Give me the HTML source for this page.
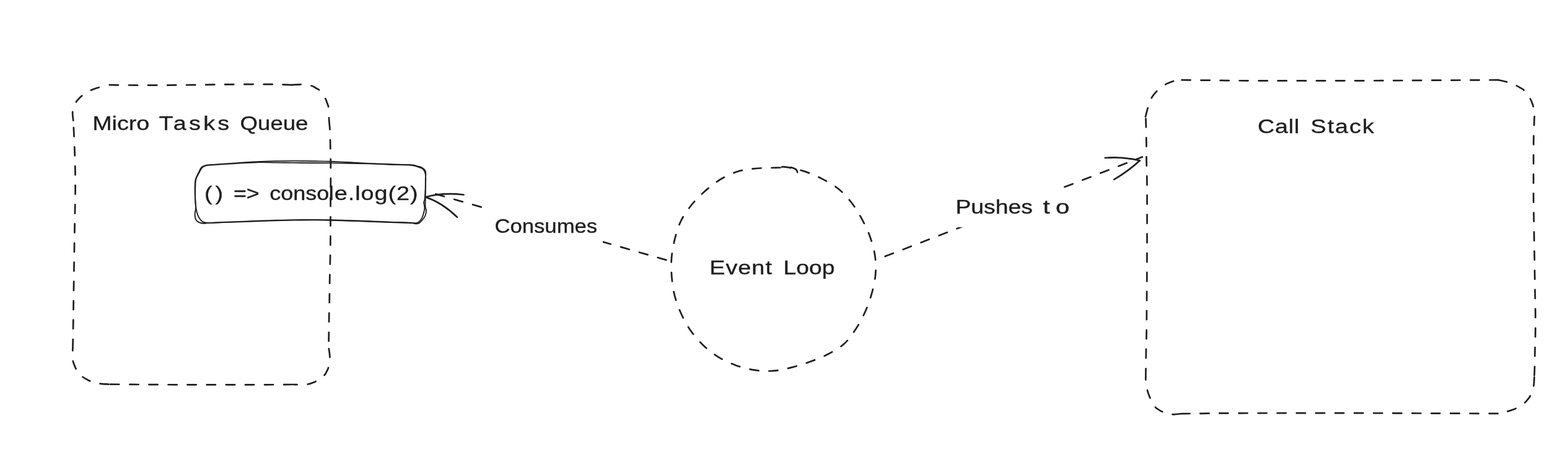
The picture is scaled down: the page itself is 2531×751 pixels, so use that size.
<!DOCTYPE html>
<html lang="en">
<head>
<meta charset="utf-8">
<title>Event Loop diagram</title>
<style>
html,body{margin:0;padding:0;background:#fff;}
body{width:2531px;height:751px;overflow:hidden;}
svg{display:block;will-change:transform;}
.shapes path{fill:none;stroke:#1e1e1e;stroke-linecap:round;stroke-linejoin:round;}
text{font-family:"Liberation Sans",sans-serif;font-size:31px;fill:#1e1e1e;stroke:#1e1e1e;stroke-width:0.35px;stroke-linejoin:round;}
</style>
</head>
<body>
<svg width="2531" height="751" viewBox="0 0 2531 751">
<rect width="2531" height="751" fill="#fff"/>
<g class="shapes">
<!-- Micro Tasks Queue container -->
<path d="M176.8,137.2C188.3,137.3 224.1,137.7 246,137.7C267.9,137.7 287.3,137.4 308,137.2C328.7,137 349.2,136.6 370,136.4C390.8,136.2 416.2,136 433,136.1C449.8,136.2 464.7,136.9 471,137.1" stroke-dasharray="14.2 16.87" stroke-width="2.7"/>
<path d="M471,137.2C473.8,137.1 482.3,136.2 487.5,136.4C492.7,136.6 498.7,137.6 502.4,138.5C506.1,139.4 507.2,140.7 509.5,142C511.8,143.3 513.8,143.6 516.4,146.4C519,149.2 523,155.4 524.9,158.6C526.8,161.8 526.9,163.4 527.8,165.8C528.7,168.2 529.7,169.5 530.2,173.2C530.7,176.9 530.9,184.4 531,188C531.1,191.6 531.1,193.4 531.1,194.5" stroke-dasharray="14.2 16.87" stroke-width="2.7" pathLength="97.86"/>
<path d="M531.2,195C531.4,197.5 532.2,203.5 532.5,210C532.8,216.5 533,224.8 533.2,234C533.4,243.2 533.7,249.7 533.8,265C533.9,280.3 533.7,305.5 533.6,326C533.5,346.5 533.5,372.3 533.4,388C533.3,403.7 533.1,409.3 532.9,420C532.7,430.7 532.4,441.7 532.2,452C532,462.3 532,471.8 531.8,482C531.6,492.2 531.3,502.7 531.1,513C530.9,523.3 530.8,537.2 530.7,544C530.6,550.8 530.7,552.3 530.7,554" stroke-dasharray="14.2 16.87" stroke-width="2.7"/>
<path d="M530.8,563C531.1,565.4 532.5,572.5 532.4,577.5C532.3,582.5 531.1,589.2 530.2,593C529.3,596.8 528.4,597.9 527.2,600.2C526,602.5 525.8,604 523,606.6C520.2,609.2 513.8,613.7 510.5,615.7C507.2,617.7 505.8,617.8 503.3,618.6C500.9,619.4 499.6,620.2 495.8,620.6C492,621 484,621.1 480.4,621.2C476.8,621.3 475.1,621 474,621" stroke-dasharray="14.2 16.87" stroke-width="2.7" pathLength="98.90"/>
<path d="M472.2,621C461.8,621.1 441,621.3 410,621.3C379,621.3 317,621.3 286,621.3C255,621.2 242.3,621.1 224,621C205.7,620.9 184,620.7 176,620.6" stroke-dasharray="14.2 16.87" stroke-width="2.7"/>
<path d="M175.5,620.6C173.1,620.4 165.8,620.4 161,619.6C156.2,618.8 150.4,617.2 146.8,616C143.2,614.8 141.9,613.8 139.5,612.4C137.1,611 135.2,610.5 132.5,607.9C129.8,605.3 125.5,599.9 123.4,596.8C121.3,593.7 121,592 120,589.5C119,587 118,585.5 117.6,581.6C117.1,577.7 117.3,569.4 117.3,566.3C117.3,563.2 117.4,563.5 117.4,563" stroke-dasharray="14.2 16.87" stroke-width="2.7" pathLength="96.57"/>
<path d="M117.5,562.1C117.6,555.6 118,534.7 118.2,523C118.4,511.3 118.4,507.3 118.6,492C118.8,476.7 119.3,446.3 119.5,431C119.7,415.7 119.8,410.5 120,400C120.2,389.5 120.3,378.5 120.5,368C120.7,357.5 120.9,347.3 121.1,337C121.3,326.7 121.5,316.3 121.6,306C121.6,295.7 121.6,285.3 121.4,275C121.2,264.7 120.9,254.3 120.5,244C120.1,233.7 119.6,220.8 119.2,213C118.8,205.2 118.5,199.7 118.3,197" stroke-dasharray="14.2 16.87" stroke-width="2.7"/>
<path d="M118.3,194.6C118.1,192.2 116.6,184.8 117.3,180C118,175.2 120.8,168.9 122.5,165.5C124.2,162.1 125.5,161.4 127.2,159.6C128.9,157.8 129.6,156.6 132.7,154.4C135.8,152.2 142.4,148.2 145.8,146.3C149.2,144.4 150.7,144.1 153.2,143.2C155.7,142.3 157.3,141.9 161,140.9C164.7,139.9 173.1,137.9 175.5,137.3" stroke-dasharray="14.2 16.87" stroke-width="2.7" pathLength="92.47"/>
<!-- Call Stack container -->
<path d="M1907.5,129.2C1917.9,129.3 1949.4,129.7 1970,129.9C1990.6,130.1 1993.7,130.3 2031,130.4C2068.3,130.5 2150.8,130.4 2194,130.3C2237.2,130.2 2258.8,130 2290,129.8C2321.2,129.7 2359.7,129.5 2381,129.4C2402.3,129.3 2411.8,129.2 2418,129.1" stroke-dasharray="14.2 16.87" stroke-width="2.7"/>
<path d="M2418.3,129.1C2420.8,129.7 2428.3,131.1 2433,132.6C2437.7,134.1 2443.2,136.3 2446.7,137.8C2450.2,139.3 2451.6,140.3 2453.9,141.7C2456.2,143.1 2458,143.6 2460.6,146.4C2463.2,149.2 2467.3,155.1 2469.3,158.3C2471.3,161.5 2471.8,163.1 2472.8,165.6C2473.8,168.1 2474.6,169.7 2475.2,173.3C2475.8,176.9 2476.4,184.7 2476.6,187" stroke-dasharray="14.2 16.87" stroke-width="2.7" pathLength="91.15"/>
<path d="M2476.8,188.2C2476.6,194.3 2475.7,213.5 2475.5,225C2475.3,236.5 2475.3,241.3 2475.3,257C2475.3,272.7 2475.2,303.5 2475.3,319C2475.4,334.5 2475.6,339.7 2475.8,350C2476,360.3 2476.1,370.7 2476.3,381C2476.5,391.3 2476.6,401.5 2476.8,412C2477,422.5 2477.1,433.5 2477.3,444C2477.5,454.5 2477.6,464.8 2477.8,475C2478,485.2 2478.3,494.8 2478.4,505C2478.5,515.2 2478.5,525.5 2478.4,536C2478.3,546.5 2477.8,558.2 2477.6,568C2477.4,577.8 2477.3,588.3 2477.1,595C2476.9,601.7 2476.7,605.8 2476.6,608" stroke-dasharray="14.2 16.87" stroke-width="2.7"/>
<path d="M2476.6,609C2476.4,611.6 2476.4,619.6 2475.3,624.7C2474.2,629.8 2471.6,635.9 2470,639.4C2468.4,642.9 2467.2,643.7 2465.5,645.7C2463.8,647.7 2463.1,649 2460.1,651.3C2457.1,653.6 2450.8,657.5 2447.5,659.3C2444.2,661.1 2442.7,661.4 2440.2,662.3C2437.7,663.2 2436.2,663.7 2432.7,664.6C2429.1,665.5 2421.2,667.1 2418.9,667.6" stroke-dasharray="14.2 16.87" stroke-width="2.7" pathLength="91.02"/>
<path d="M2417.7,667.9C2400.9,667.8 2355,667.7 2317,667.6C2279,667.5 2242.8,667.2 2190,667.2C2137.2,667.2 2041.7,667.2 2000,667.3C1958.3,667.4 1955.3,667.6 1940,667.8C1924.7,667.9 1913.3,668.1 1908,668.2" stroke-dasharray="14.2 16.87" stroke-width="2.7"/>
<path d="M1906.5,668.2C1904.1,668.4 1897.1,669.7 1892.3,669.2C1887.5,668.8 1881,666.7 1877.4,665.5C1873.8,664.3 1872.8,663.2 1870.6,661.8C1868.4,660.4 1866.8,660.1 1864.5,657.1C1862.2,654.1 1858.8,647.4 1857.1,644C1855.3,640.6 1854.9,639.1 1854,636.6C1853.1,634.1 1852.5,632.8 1851.8,628.9C1851,625 1849.9,616.6 1849.5,613.5C1849.1,610.4 1849.4,611 1849.4,610.5" stroke-dasharray="14.2 16.87" stroke-width="2.7" pathLength="96.22"/>
<path d="M1849.4,609.4C1849.5,603 1849.7,582.6 1849.9,571C1850.1,559.4 1850.4,550.3 1850.6,540C1850.8,529.7 1850.8,519.3 1850.9,509C1851,498.7 1851,491.2 1851.1,478C1851.2,464.8 1851.3,453 1851.4,430C1851.5,407 1851.6,363 1851.6,340C1851.6,317 1851.6,305.3 1851.4,292C1851.2,278.7 1850.8,270.5 1850.6,260C1850.4,249.5 1850.6,239.3 1850.4,229C1850.2,218.7 1849.9,204.2 1849.7,198C1849.5,191.8 1849.5,192.6 1849.4,191.5" stroke-dasharray="14.2 16.87" stroke-width="2.7"/>
<path d="M1849,188.5C1849.7,185.9 1851.6,177.9 1853.2,172.9C1854.8,167.9 1857,162.2 1858.6,158.7C1860.2,155.2 1861.4,154.2 1863,152.1C1864.6,150 1865.5,148.8 1868.4,146.3C1871.3,143.8 1877.1,139.1 1880.3,137C1883.5,134.9 1885.1,134.5 1887.6,133.5C1890.1,132.5 1891.9,131.5 1895.2,130.8C1898.5,130.1 1905.5,129.5 1907.5,129.2" stroke-dasharray="14.2 16.87" stroke-width="2.7" pathLength="89.37"/>
<!-- queued task box -->
<path d="M337,266.4C344.2,265.9 367,264.3 380,263.4C393,262.5 404.2,261.7 415,261.2C425.8,260.7 435,260.5 445,260.3C455,260.1 465,259.9 475,259.9C485,259.9 495.2,260 505,260.2C514.8,260.4 524,260.4 534,260.8C544,261.2 554.8,261.8 565,262.3C575.2,262.8 584.2,263.4 595,263.9C605.8,264.4 618.6,264.8 630,265.2C641.4,265.6 656,265.7 663.2,266.2C670.4,266.7 670.2,267.5 673.2,268.3C676.2,269.1 679.1,269.7 681.2,270.8C683.3,271.9 684.9,273.3 685.9,274.8C686.9,276.3 687.1,277.5 687.2,280C687.4,282.5 686.9,285 686.8,290C686.7,295 686.8,302.8 686.8,310C686.8,317.2 686.3,328 686.5,333C686.7,338 688,337.5 688,340C688,342.5 687.6,345.3 686.5,348C685.4,350.7 683,353.9 681.2,356C679.4,358.1 677.8,359.7 675.9,360.6C674,361.5 672,361.5 669.9,361.3C667.8,361.1 669.6,360.1 663,359.7C656.4,359.2 641.3,359 630,358.6C618.7,358.2 605.8,357.6 595,357.2C584.2,356.8 575.2,356.5 565,356.2C554.8,355.9 544,355.5 534,355.3C524,355.1 514.8,354.9 505,354.9C495.2,354.9 485,355 475,355.1C465,355.2 455,355.5 445,355.8C435,356.1 425.8,356.4 415,356.8C404.2,357.2 389.5,357.7 380,358.1C370.5,358.5 365.5,358.7 358,359C350.5,359.3 340.2,360.2 335,360C329.8,359.8 329.1,359.1 327,358C324.9,356.9 323.6,355.2 322.3,353.3C321,351.4 319.9,349.2 319,346.6C318.1,344.1 317.4,342.4 316.7,338C316,333.6 315.3,326.3 315,320C314.7,313.7 314.6,305 314.7,300C314.8,295 314.7,293.3 315.6,290C316.5,286.7 318.4,283.2 320,280C321.6,276.8 323.1,272.8 325,270.7C326.9,268.6 329.7,267.9 331.7,267.2C333.7,266.5 336.1,266.5 337,266.4" stroke-width="1.9"/>
<path d="M336.5,266.8C343.8,266.3 366.9,264.8 380,264C393.1,263.2 404.2,262.4 415,262.2C425.8,262 435,262.5 445,262.6C455,262.7 465,262.8 475,262.9C485,263 495.2,263.1 505,263.2C514.8,263.3 524,263.3 534,263.4C544,263.5 554.8,263.6 565,263.8C575.2,264 584.2,264.1 595,264.4C605.8,264.7 618.7,265.3 630,265.7C641.3,266.1 655.5,266 663,266.7C670.5,267.4 671.7,268.6 675,269.7C678.3,270.8 681.1,271.8 683,273.4C684.9,274.9 685.5,276.2 686.2,279C686.9,281.8 687.3,283.2 687.2,290C687.1,296.8 686.3,313.9 685.8,320C685.3,326.1 684.3,323.9 684.2,326.7C684.1,329.5 685.6,333.1 685.4,336.6C685.1,340.2 683.7,344.9 682.7,348C681.7,351.1 680.6,353.4 679.2,355.3C677.8,357.2 676.6,358.5 674.5,359.3C672.4,360.1 674,360.4 666.6,360.3C659.2,360.2 641.9,359.4 630,359C618.1,358.6 605.8,358.1 595,357.7C584.2,357.3 575.2,357 565,356.7C554.8,356.4 544,356 534,355.8C524,355.6 514.8,355.4 505,355.4C495.2,355.4 485,355.5 475,355.6C465,355.8 455,356 445,356.3C435,356.6 425.8,356.9 415,357.3C404.2,357.7 392.8,358.2 380,358.6C367.2,359.1 346.4,359.6 338.3,360C330.2,360.4 334.1,360.8 331.7,360.8C329.3,360.8 325.9,360.6 323.7,360C321.5,359.4 319.6,358.4 318.3,357.3C317,356.2 316.3,354.9 315.7,353.3C315.1,351.8 314.8,349.9 314.7,348C314.6,346.1 314.8,344 315,342C315.2,340 316,339.7 316,336C316,332.3 315.3,326 315.2,320C315.1,314 315.1,305.2 315.3,300C315.5,294.8 315.4,292.4 316.4,289C317.3,285.6 319.4,282.6 321,279.6C322.6,276.6 324.2,273 326,271C327.8,269 330.2,268.3 332,267.6C333.8,266.9 335.8,266.9 336.5,266.8" stroke-width="1.9"/>
<!-- Event Loop circle -->
<path d="M1262.1,269.6C1263.3,269.7 1263.3,268.7 1269.5,269.9C1275.7,271.1 1289.3,273.7 1299,276.9C1308.7,280.1 1318.3,284.3 1327.5,289.1C1336.7,293.9 1346.2,299.2 1354.2,305.7C1362.2,312.2 1368.9,320.1 1375.2,328.3C1381.5,336.5 1386.9,345.7 1391.8,354.8C1396.7,363.9 1401.1,373.2 1404.5,382.8C1407.9,392.4 1410.8,402.4 1412.3,412.5C1413.8,422.6 1414.1,432.9 1413.2,443.2C1412.3,453.5 1409.9,464.1 1407.1,474.2C1404.3,484.2 1400.7,494.1 1396.5,503.5C1392.3,512.9 1387.4,522.2 1381.8,530.8C1376.2,539.4 1370.4,548.2 1362.9,555C1355.4,561.8 1346,567 1337,571.8C1328,576.6 1318.3,580.2 1308.6,583.8C1298.9,587.3 1289,590.6 1279,593.1C1269,595.6 1258.7,598.1 1248.5,598.9C1238.3,599.7 1228.2,599.2 1218,597.7C1207.8,596.2 1197.2,593.4 1187.5,589.9C1177.8,586.4 1168.2,582 1159.5,576.6C1150.8,571.2 1142.6,564.8 1135.2,557.7C1127.8,550.6 1121,542.7 1115,534.2C1109,525.7 1103.8,516 1099.5,506.5C1095.2,497 1091.5,487.3 1089,477.4C1086.5,467.5 1085.1,457 1084.3,446.9C1083.5,436.8 1083.2,426.9 1084,416.7C1084.8,406.5 1086.8,395.9 1089.3,385.9C1091.8,375.9 1094.8,365.6 1099.3,356.5C1103.8,347.4 1109.8,339 1116.2,331C1122.6,323 1130.2,315.5 1137.9,308.7C1145.6,301.9 1153.7,295.3 1162.5,290C1171.3,284.7 1180.9,280 1190.8,277C1200.6,274 1211.1,273 1221.4,272C1231.7,271 1246,271.1 1252.6,270.9C1259.2,270.6 1257.1,270.8 1260.9,270.7C1264.7,270.6 1271.6,269.9 1275.3,270.2C1279,270.5 1281.2,271.7 1283,272.5C1284.8,273.3 1285.5,274.1 1286.2,275.2C1286.9,276.3 1287,278.4 1287.2,279" pathLength="1071.48" stroke-dasharray="14.2 16.87" stroke-width="2.7"/>
<!-- arrow: Event Loop -> task (Consumes) -->
<path d="M1075.4,419.9 L695,311" stroke-dasharray="14.2 16.87" stroke-width="2.7"/>
<rect x="790.5" y="332" width="182.5" height="64" fill="#fff" stroke="none"/>
<path d="M687,318.3 Q715,310.5 748.5,314.5" stroke-width="2.7"/>
<path d="M687,318.3 Q714,327.5 738,350.8" stroke-width="2.7"/>
<!-- arrow: Event Loop -> Call Stack (Pushes to) -->
<path d="M1428.6,414.1 L1843.8,253.5" stroke-dasharray="14.2 16.87" stroke-width="2.7"/>
<rect x="1535" y="303" width="201" height="64" fill="#fff" stroke="none"/>
<path d="M1839.8,259.3 Q1810,252.5 1783.9,255" stroke-width="2.7"/>
<path d="M1839.8,259.3 Q1822,276 1798.3,289.9" stroke-width="2.7"/>
</g>
<g class="labels">
<text y="210"><tspan x="149.2" textLength="92.1" lengthAdjust="spacingAndGlyphs" style="letter-spacing:0.00px">Micro</tspan> <tspan x="256.5" textLength="118.0" lengthAdjust="spacingAndGlyphs" style="letter-spacing:3.49px">Tasks</tspan> <tspan x="387.6" textLength="109.8" lengthAdjust="spacingAndGlyphs" style="letter-spacing:0.00px">Queue</tspan></text>
<text y="323"><tspan x="329.9" textLength="35.3" lengthAdjust="spacingAndGlyphs" style="letter-spacing:4.16px">()</tspan> <tspan x="376.9" textLength="41.8" lengthAdjust="spacingAndGlyphs" style="letter-spacing:0.00px">=&gt;</tspan> <tspan x="435.2" textLength="96.2" lengthAdjust="spacingAndGlyphs" style="letter-spacing:0.00px">conso</tspan><tspan x="530.4" textLength="145.1" lengthAdjust="spacingAndGlyphs" style="letter-spacing:0.77px">le.log(2)</tspan></text>
<text y="375.5"><tspan x="798.5" textLength="165.6" lengthAdjust="spacingAndGlyphs" style="letter-spacing:0.00px">Consumes</tspan></text>
<text y="443"><tspan x="1145.2" textLength="101.7" lengthAdjust="spacingAndGlyphs" style="letter-spacing:0.81px">Event</tspan> <tspan x="1264.6" textLength="82.8" lengthAdjust="spacingAndGlyphs" style="letter-spacing:0.00px">Loop</tspan></text>
<text y="345"><tspan x="1542.5" textLength="124.4" lengthAdjust="spacingAndGlyphs" style="letter-spacing:0.00px">Pushes</tspan> <tspan x="1683.4" textLength="52.2" lengthAdjust="spacingAndGlyphs" style="letter-spacing:7.16px">to</tspan></text>
<text y="215"><tspan x="2030.1" textLength="67.9" lengthAdjust="spacingAndGlyphs" style="letter-spacing:0.57px">Call</tspan> <tspan x="2115.5" textLength="104.3" lengthAdjust="spacingAndGlyphs" style="letter-spacing:1.59px">Stack</tspan></text>
</g>
</svg>
</body>
</html>
